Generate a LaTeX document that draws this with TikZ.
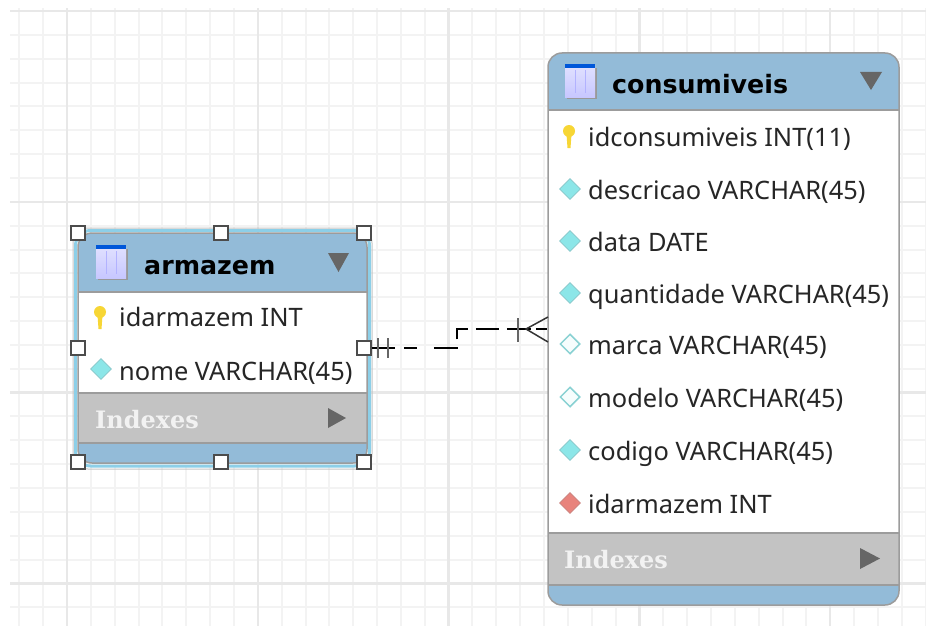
\documentclass[tikz,border=0pt]{standalone}
\usepackage{fontspec}
\usepackage{tikz}
\usetikzlibrary{shapes.geometric}
\setmainfont{Noto Sans}
\newfontfamily\titlefont{DejaVu Sans}
\newfontfamily\idxfont{DejaVu Serif}

\definecolor{headblue}{HTML}{93BBD8}
\definecolor{idxgrey}{HTML}{C3C3C3}
\definecolor{edgegrey}{HTML}{9C9C9C}
\definecolor{arrowgrey}{HTML}{666666}
\definecolor{gridgrey}{HTML}{F3F3F3}
\definecolor{majorgrey}{HTML}{E8E8E8}
\definecolor{selblue}{HTML}{8CCFE8}
\definecolor{diacyan}{HTML}{8CE6E8}
\definecolor{diapale}{HTML}{F6FDFD}
\definecolor{diared}{HTML}{E8837C}
\definecolor{keygold}{HTML}{F7D635}

\tikzset{
    rowtext/.style={anchor=base west, inner sep=0pt, text=black!85, font=\fontsize{25.4}{25.4}\selectfont},
    titletext/.style={anchor=base west, inner sep=0pt, text=black, font=\titlefont\bfseries\fontsize{25.3}{25.3}\selectfont},
    idxtext/.style={anchor=base west, inner sep=0pt, text=white!95!black, font=\idxfont\bfseries\fontsize{24}{24}\selectfont},
    tablebox/.style={draw=edgegrey, line width=1.5pt, rounded corners=14pt, inner sep=0pt, minimum width=#1},
    handle/.style={draw=black!70, fill=white, line width=1.5pt, inner sep=0pt, minimum size=14pt},
    coldiamond/.style={diamond, draw=#1!70!gray, fill=#1, inner sep=0pt, minimum size=21pt, line width=0.8pt},
    palediamond/.style={diamond, draw=diacyan!80!gray, fill=diapale, inner sep=0pt, minimum size=20pt, line width=1.5pt},
    tablicon/.pic={
        \fill [black!40] (-13,-13) rectangle (17,18);
        \shade [top color=blue!12, bottom color=blue!22!white] (-15,-15) rectangle (15,16);
        \fill [blue!60!cyan!85!black] (-15,-17) rectangle (15,-13);
        \draw [white!70!blue, line width=1pt] (-5,-11) -- (-5,12) (5,-11) -- (5,12);
    },
    keyicon/.pic={
        \fill [keygold] (-2.5,0) -- (2.5,0) -- (1.5,14) -- (-1.5,14) -- cycle;
        \fill [keygold] (0,-3) circle (6);
    },
}

\begin{document}
\begin{tikzpicture}[x=1pt, y=-1pt]
    \useasboundingbox (0,0) rectangle (926,626);

    % grid
    \begin{scope}[shift={(67,11)}, y=1pt]
        \draw [gridgrey, line width=2pt, xstep=23.85, ystep=23.85] (-57,-615) grid (859,3);
        \draw [majorgrey, line width=2.5pt, xstep=190.8, ystep=190.8] (-57,-615) grid (859,3);
    \end{scope}

    % armazem
    \draw [edgegrey!60, line width=1pt, rounded corners=15pt] (73,228) rectangle (372,469);
    \draw [selblue, line width=3pt, rounded corners=15pt] (75.5,230.5) rectangle (369.5,466);
    \begin{scope}
        \clip [rounded corners=14pt] (78,233) rectangle (367,463);
        \fill [headblue] (78,233) rectangle (367,292);
        \fill [white] (78,292) rectangle (367,393);
        \fill [idxgrey] (78,393) rectangle (367,443);
        \fill [headblue] (78,443) rectangle (367,463);
    \end{scope}
    \draw [edgegrey, line width=1.5pt] (78,292) -- (367,292);
    \draw [edgegrey, line width=1.5pt] (78,393) -- (367,393);
    \draw [edgegrey, line width=1.5pt] (78,443) -- (367,443);
    \node (armazem) [tablebox=289pt, minimum height=230pt] at (222.5,348) {};
    \pic at (111,262) {tablicon};
    \node (armazemtitle) [titletext] at (144,274) {armazem};
    \fill [arrowgrey] (328,253) -- (349,253) -- (338.5,272) -- cycle;
    \pic at (100,315) {keyicon};
    \node (idarmazempk) [rowtext] at (119,326) {idarmazem INT};
    \node (nomeicon) [coldiamond=diacyan] at (101,369) {};
    \node (nome) [rowtext] at (119,380) {nome VARCHAR(45)};
    \node (armazemidx) [idxtext] at (95,428) {Indexes};
    \fill [arrowgrey] (328,408) -- (346,418) -- (328,428) -- cycle;

    % consumiveis
    \begin{scope}
        \clip [rounded corners=14pt] (548,53) rectangle (899,605);
        \fill [headblue] (548,53) rectangle (899,110);
        \fill [white] (548,110) rectangle (899,533);
        \fill [idxgrey] (548,533) rectangle (899,585);
        \fill [headblue] (548,585) rectangle (899,605);
    \end{scope}
    \draw [edgegrey, line width=1.5pt] (548,110) -- (899,110);
    \draw [edgegrey, line width=1.5pt] (548,533) -- (899,533);
    \draw [edgegrey, line width=1.5pt] (548,585) -- (899,585);
    \node (consumiveis) [tablebox=351pt, minimum height=552pt] at (723.5,329) {};
    \pic at (580,81) {tablicon};
    \node (constitle) [titletext] at (612,93) {consumiveis};
    \fill [arrowgrey] (860,72) -- (882,72) -- (871,90) -- cycle;
    \pic at (569,134) {keyicon};
    \node (idcons) [rowtext] at (588,146) {idconsumiveis INT(11)};
    \node (descricaoicon) [coldiamond=diacyan] at (570,189) {};
    \node (descricao) [rowtext] at (588,199) {descricao VARCHAR(45)};
    \node (dataicon) [coldiamond=diacyan] at (570,241) {};
    \node (data) [rowtext] at (588,251) {data DATE};
    \node (quantidadeicon) [coldiamond=diacyan] at (570,293) {};
    \node (quantidade) [rowtext] at (588,303) {quantidade VARCHAR(45)};
    \node (marcaicon) [palediamond] at (570,344) {};
    \node (marca) [rowtext] at (588,354) {marca VARCHAR(45)};
    \node (modeloicon) [palediamond] at (570,397) {};
    \node (modelo) [rowtext] at (588,407) {modelo VARCHAR(45)};
    \node (codigoicon) [coldiamond=diacyan] at (570,450) {};
    \node (codigo) [rowtext] at (588,460) {codigo VARCHAR(45)};
    \node (idarmazemicon) [coldiamond=diared] at (570,503) {};
    \node (idarmazemfk) [rowtext] at (588,513) {idarmazem INT};
    \node (considx) [idxtext] at (564,568) {Indexes};
    \fill [arrowgrey] (860,548) -- (880,558.5) -- (860,569) -- cycle;

    % selection handles
    \node (htl) [handle] at (78,233) {};
    \node (htm) [handle] at (221,233) {};
    \node (htr) [handle] at (364,233) {};
    \node (hml) [handle] at (78,348) {};
    \node (hmr) [handle] at (364,348) {};
    \node (hbl) [handle] at (78,462) {};
    \node (hbm) [handle] at (221,462) {};
    \node (hbr) [handle] at (364,462) {};

    % relationship
    \coordinate (bendlow) at (457,348);
    \coordinate (bendhigh) at (457,329);
    \coordinate (crowend) at (consumiveis.west |- bendhigh);
    \draw [black, line width=1.5pt, dash pattern=on 23pt off 9pt on 13pt off 17pt on 24pt off 8pt on 21pt off 8pt on 23pt off 8pt on 24pt off 5pt on 13pt]
        (hmr.east) -- (bendlow) -- (bendhigh) -- (crowend);
    \draw [arrowgrey, line width=2pt] (378,338) -- (378,358);
    \draw [arrowgrey, line width=2pt] (388,338) -- (388,358);
    \draw [arrowgrey, line width=2.5pt] (518,318) -- (518,342);
    \draw [black!80, line width=1.5pt] (548,317) -- (526,329) -- (548,342);
\end{tikzpicture}
\end{document}
